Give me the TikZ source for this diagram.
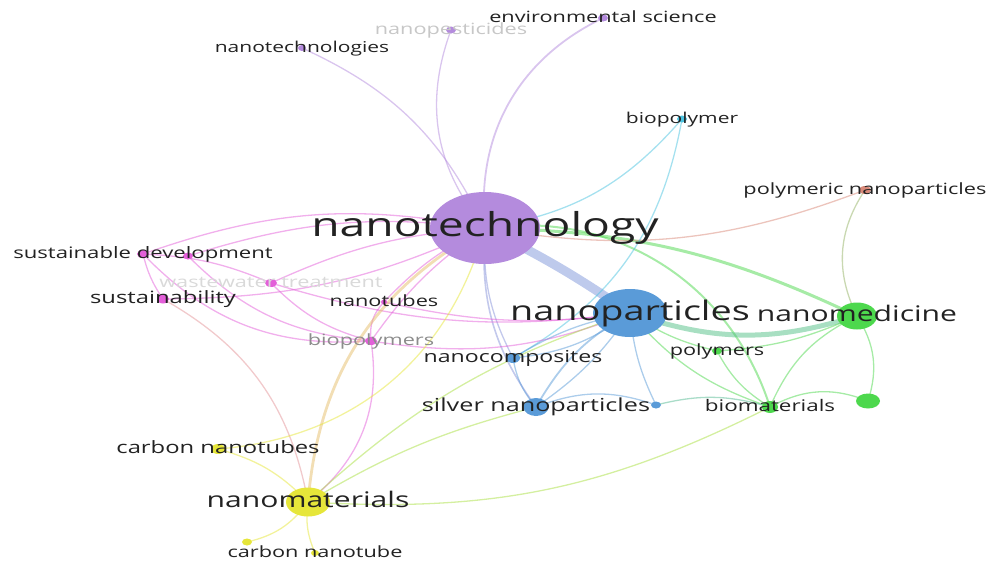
\documentclass[tikz,border=0pt]{standalone}
\usepackage{fontspec}
\newfontfamily\labfont[FakeStretch=1.4]{Open Sans}
\usepackage{tikz}
\usetikzlibrary{shapes.geometric, backgrounds}
\definecolor{purp}{HTML}{B48BDD}
\definecolor{blu}{HTML}{5A9BD8}
\definecolor{grn}{HTML}{4DD84D}
\definecolor{yel}{HTML}{E6E63A}
\definecolor{pnk}{HTML}{E35FD9}
\definecolor{cyn}{HTML}{4CC3E0}
\definecolor{brick}{HTML}{D98A7A}
\definecolor{labtext}{HTML}{222222}

\begin{document}
\begin{tikzpicture}[
    x=1pt, y=-1pt,
    dot/.style={ellipse, fill=#1, draw=none, inner sep=0pt},
    esize/.style 2 args={minimum width=#1pt, minimum height=#2pt},
    lab/.style={font=\labfont\fontsize{#1}{#1}\selectfont, text=labtext, inner sep=0pt, anchor=base, yshift=-0.27*#1pt},
    lnk/.style={draw=#1, draw opacity=.5, line width=1.3pt}
]
\useasboundingbox (0,0) rectangle (995,562);

% Keywords
\node[dot=purp, esize={110}{72}] (nt) at (485,228) {};
\node[dot=blu, esize={74}{48}] (np) at (630,313) {};
\node[dot=grn, esize={40}{27}] (nmed) at (857,316) {};
\node[dot=yel, esize={44}{29}] (nmat) at (308,502) {};
\node[dot=blu, esize={25}{18}] (silver) at (536,407) {};
\node[dot=blu, esize={14}{10}] (ncomp) at (513,358) {};
\node[dot=blu, esize={10}{7}] (bnode) at (656,405) {};
\node[dot=grn, esize={10}{7}] (polym) at (717,351) {};
\node[dot=grn, esize={16}{12}] (biomat) at (770,407) {};
\node[dot=grn, esize={24}{15}] (gnode) at (868,401) {};
\node[dot=brick, esize={12}{8}] (pnp) at (865,190) {};
\node[dot=cyn, esize={10}{7}] (biopol) at (682,119) {};
\node[dot=purp, esize={10}{7}] (env) at (603,18) {};
\node[dot=purp, esize={10}{7}] (npest) at (451,30) {};
\node[dot=purp, esize={8}{6}] (ntg) at (302,48) {};
\node[dot=pnk, esize={12}{8}] (sd) at (143,254) {};
\node[dot=pnk, esize={10}{7}] (sd2) at (188,256) {};
\node[dot=pnk, esize={12}{8}] (ww) at (271,283) {};
\node[dot=pnk, esize={12}{9}] (sus) at (163,299) {};
\node[dot=pnk, esize={12}{8}] (bpols) at (371,341) {};
\node[dot=pnk, esize={6}{5}] (ntub) at (384,302) {};
\node[dot=yel, esize={14}{10}] (cnts) at (218,449) {};
\node[dot=yel, esize={10}{7}] (ynode) at (247,542) {};
\node[dot=yel, esize={8}{6}] (cnt) at (315,553) {};

% Links
\begin{scope}[on background layer]
\path (ntg.center) edge[lnk=purp, bend left=20] (nt.center);
\path (npest.center) edge[lnk=purp, bend right=30] (nt.center);
\path (env.center) edge[lnk=purp, line width=1.8pt, bend right=35] (nt.center);
\path (nt.center) edge[lnk=purp!50!blu, line width=1.6pt, bend right=20] (silver.center);
\path (nt.center) edge[lnk=purp!50!blu, bend right=15] (ncomp.center);
\path (nt.center) edge[lnk=purp!40!blu, line width=9pt, draw opacity=.5, bend left=4] (np.center);
\path (nt.center) edge[lnk=grn, line width=3pt, bend left=12] (nmed.center);
\path (nt.center) edge[lnk=grn, line width=2pt, bend left=40] (biomat.center);
\path (nt.center) edge[lnk=brick, bend right=15] (pnp.center);
\path (biopol.center) edge[lnk=cyn, bend left=20] (nt.center);
\path (biopol.center) edge[lnk=cyn, bend left=25] (ncomp.center);
% sustainability cluster
\path (sd.center) edge[lnk=pnk, bend left=15] (nt.center);
\path (sd2.center) edge[lnk=pnk, bend left=12] (nt.center);
\path (sd.center) edge[lnk=pnk, bend right=10] (sus.center);
\path (sd.center) edge[lnk=pnk, bend left=10] (ww.center);
\path (sd2.center) edge[lnk=pnk, bend right=20] (bpols.center);
\path (sd.center) edge[lnk=pnk, bend right=25] (bpols.center);
\path (ww.center) edge[lnk=pnk, bend left=10] (nt.center);
\path (sus.center) edge[lnk=pnk, bend right=12] (nt.center);
\path (sus.center) edge[lnk=pnk!60!yel, bend left=25] (nmat.center);
\path (bpols.center) edge[lnk=pnk, bend left=30] (nmat.center);
\path (bpols.center) edge[lnk=pnk, bend left=10] (nt.center);
\path (bpols.center) edge[lnk=pnk, bend right=15] (np.center);
\path (ntub.center) edge[lnk=pnk, bend left=10] (nt.center);
\path (ntub.center) edge[lnk=pnk, bend right=10] (np.center);
\path (ntub.center) edge[lnk=pnk, bend right=25] (bpols.center);
\path (ww.center) edge[lnk=pnk, bend right=15] (bpols.center);
\path (ww.center) edge[lnk=pnk, bend right=12] (np.center);
% materials cluster
\path (nmat.center) edge[lnk=yel!70!pnk, line width=2.8pt, bend left=28] (nt.center);
\path (cnts.center) edge[lnk=yel, bend right=35] (nt.center);
\path (nmat.center) edge[lnk=yel, bend right=15] (cnts.center);
\path (nmat.center) edge[lnk=yel, bend left=20] (ynode.center);
\path (nmat.center) edge[lnk=yel, bend right=15] (cnt.center);
\path (nmat.center) edge[lnk=yel!60!grn, bend left=8] (silver.center);
\path (nmat.center) edge[lnk=yel!60!grn, bend left=12] (np.center);
\path (nmat.center) edge[lnk=yel!60!grn, bend right=15] (biomat.center);
% particles cluster
\path (np.center) edge[lnk=blu, bend right=10] (ncomp.center);
\path (np.center) edge[lnk=blu, bend left=15] (ncomp.center);
\path (np.center) edge[lnk=blu, line width=1.8pt, bend right=15] (silver.center);
\path (np.center) edge[lnk=blu, bend left=10] (silver.center);
\path (np.center) edge[lnk=blu, bend right=10] (bnode.center);
\path (ncomp.center) edge[lnk=blu, bend right=15] (silver.center);
\path (silver.center) edge[lnk=blu, bend left=20] (bnode.center);
\path (np.center) edge[lnk=grn!60!blu, line width=5pt, bend right=18] (nmed.center);
\path (np.center) edge[lnk=grn, bend right=10] (polym.center);
\path (np.center) edge[lnk=grn, bend right=15] (biomat.center);
% medicine cluster
\path (nmed.center) edge[lnk=grn, bend right=20] (biomat.center);
\path (nmed.center) edge[lnk=grn, bend left=25] (gnode.center);
\path (nmed.center) edge[lnk=grn, bend left=10] (polym.center);
\path (polym.center) edge[lnk=grn, bend right=15] (biomat.center);
\path (gnode.center) edge[lnk=grn, bend right=25] (biomat.center);
\path (pnp.center) edge[lnk=brick!50!grn, bend right=30] (nmed.center);
\path (bnode.center) edge[lnk=grn!50!blu, bend left=15] (biomat.center);
\end{scope}

% Labels
\node[lab=33] (nt-t) at (nt) {nanotechnology};
\node[lab=27] (np-t) at (np) {nanoparticles};
\node[lab=21.5] (nmed-t) at (nmed) {nanomedicine};
\node[lab=21.5] (nmat-t) at (nmat) {nanomaterials};
\node[lab=18] (silver-t) at (silver) {silver nanoparticles};
\node[lab=16.5] (ncomp-t) at (ncomp) {nanocomposites};
\node[lab=15.5] (polym-t) at (polym) {polymers};
\node[lab=16] (biomat-t) at (biomat) {biomaterials};
\node[lab=15.5] (pnp-t) at (pnp) {polymeric nanoparticles};
\node[lab=15] (biopol-t) at (biopol) {biopolymer};
\node[lab=15.5] (env-t) at (env) {environmental science};
\node[lab=15.5, text=black!22] (npest-t) at (npest) {nanopesticides};
\node[lab=15] (ntg-t) at (ntg) {nanotechnologies};
\node[lab=15.8] (sd-t) at (sd) {sustainable development};
\node[lab=15.5, text=black!15] (ww-t) at (ww) {wastewater treatment};
\node[lab=17] (sus-t) at (sus) {sustainability};
\node[lab=15.5, text=black!45] (bpols-t) at (bpols) {biopolymers};
\node[lab=15.5] (ntub-t) at (ntub) {nanotubes};
\node[lab=17] (cnts-t) at (cnts) {carbon nanotubes};
\node[lab=15.5] (cnt-t) at (cnt) {carbon nanotube};

\end{tikzpicture}
\end{document}
